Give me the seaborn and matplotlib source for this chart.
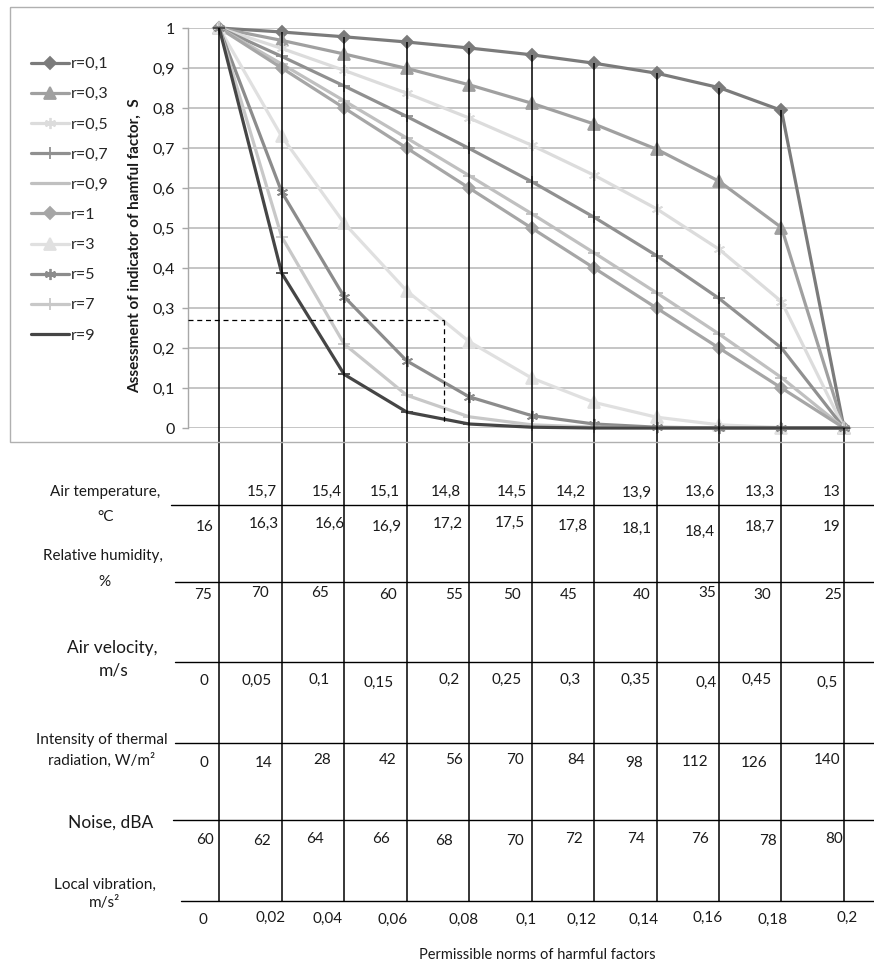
import numpy as np
import pandas as pd
import matplotlib
matplotlib.use("Agg")
import matplotlib.pyplot as plt
import seaborn as sns
from matplotlib.patches import Rectangle

# ------------------------------------------------------------------ data
# x categories: permissible norm steps (local vibration, m/s^2)
VIBRATION = [0, 0.02, 0.04, 0.06, 0.08, 0.1, 0.12, 0.14, 0.16, 0.18, 0.2]
R_LABELS = ["r=0,1", "r=0,3", "r=0,5", "r=0,7", "r=0,9", "r=1", "r=3", "r=5", "r=7", "r=9"]

S_R01 = [1, 0.990, 0.978, 0.965, 0.950, 0.933, 0.912, 0.887, 0.851, 0.794, 0]
S_R03 = [1, 0.969, 0.935, 0.899, 0.858, 0.812, 0.760, 0.697, 0.617, 0.501, 0]
S_R05 = [1, 0.949, 0.894, 0.837, 0.775, 0.707, 0.632, 0.548, 0.447, 0.316, 0]
S_R07 = [1, 0.929, 0.855, 0.779, 0.699, 0.616, 0.527, 0.431, 0.324, 0.200, 0]
S_R09 = [1, 0.910, 0.818, 0.725, 0.631, 0.536, 0.438, 0.338, 0.235, 0.126, 0]
S_R1 = [1, 0.900, 0.800, 0.700, 0.600, 0.500, 0.400, 0.300, 0.200, 0.100, 0]
S_R3 = [1, 0.729, 0.512, 0.343, 0.216, 0.125, 0.064, 0.027, 0.008, 0.001, 0]
S_R5 = [1, 0.590, 0.328, 0.168, 0.078, 0.031, 0.010, 0.002, 0, 0, 0]
S_R7 = [1, 0.478, 0.210, 0.082, 0.028, 0.008, 0.002, 0, 0, 0, 0]
S_R9 = [1, 0.387, 0.134, 0.040, 0.010, 0.002, 0, 0, 0, 0, 0]

# table rows under the chart
TEMP_LOW = [15.7, 15.4, 15.1, 14.8, 14.5, 14.2, 13.9, 13.6, 13.3, 13]       # columns 1..10
TEMP_HIGH = [16, 16.3, 16.6, 16.9, 17.2, 17.5, 17.8, 18.1, 18.4, 18.7, 19]
HUMIDITY = [75, 70, 65, 60, 55, 50, 45, 40, 35, 30, 25]
VELOCITY = [0, 0.05, 0.1, 0.15, 0.2, 0.25, 0.3, 0.35, 0.4, 0.45, 0.5]
RADIATION = [0, 14, 28, 42, 56, 70, 84, 98, 112, 126, 140]
NOISE = [60, 62, 64, 66, 68, 70, 72, 74, 76, 78, 80]

GUIDE_S = 0.27       # dashed reading guide
GUIDE_POS = 3.59
GUIDE_LOW = 0.012

# ------------------------------------------------------------------ styles
COLORS = ["#7b7b7b", "#a0a0a0", "#dcdcdc", "#909090", "#c0c0c0",
          "#a6a6a6", "#e0e0e0", "#8c8c8c", "#c8c8c8", "#454545"]
MARKERS = ["D", "^", (6, 2, 0), "+", "_", "D", "^", (6, 2, 0), "+", "_"]
MSIZES = [6.5, 8, 8, 8, 8, 6.5, 8, 8, 8, 8]

W, H = 874, 963
X0_PX, DX_PX = 220, 62.4
AX_L, AX_R, AX_T, AX_B = 188, 874, 28, 428
TABLE_BOTTOM_PX = 901

sns.set_theme(style="white")
plt.rcParams["font.family"] = ["Lato", "DejaVu Sans"]
TXT = "#1a1a1a"

fig = plt.figure(figsize=(W / 100, H / 100), dpi=100)
ax = fig.add_axes([AX_L / W, 1 - AX_B / H, (AX_R - AX_L) / W, (AX_B - AX_T) / H])
ax.set_xlim(-0.5, (AX_R - X0_PX) / DX_PX)
ax.set_ylim(0, 1)

series = [S_R01, S_R03, S_R05, S_R07, S_R09, S_R1, S_R3, S_R5, S_R7, S_R9]
pos = np.arange(len(VIBRATION))
df = pd.concat([pd.DataFrame({"pos": pos, "S": s, "r": lab})
                for lab, s in zip(R_LABELS, series)], ignore_index=True)

for lab, c, m, ms in zip(R_LABELS, COLORS, MARKERS, MSIZES):
    sub = df[df["r"] == lab]
    sns.lineplot(data=sub, x="pos", y="S", ax=ax, color=c, linewidth=2.3,
                 marker=m, markersize=ms, markerfacecolor=c, markeredgecolor=c,
                 markeredgewidth=1.3, label=lab, clip_on=False, zorder=3)

# drop lines from highest series down through the table
tops = df.groupby("pos")["S"].max().values
drop_low = (AX_B - TABLE_BOTTOM_PX) / (AX_B - AX_T)
ax.vlines(pos, drop_low, tops, colors="black", linewidth=1.1, clip_on=False, zorder=4)

# dashed guide
ax.plot([-0.5, GUIDE_POS], [GUIDE_S, GUIDE_S], color="black", lw=0.9, ls=(0, (4, 3)), zorder=4, clip_on=False)
ax.plot([GUIDE_POS, GUIDE_POS], [GUIDE_S, GUIDE_LOW], color="black", lw=0.9, ls=(0, (4, 3)), zorder=4)

# axes styling
yt = np.round(np.arange(0, 1.01, 0.1), 1)
ax.set_yticks(yt)
ax.set_yticklabels([f"{v:g}".replace(".", ",") for v in yt], fontsize=11.5, color=TXT)
ax.set_xticks([])
ax.set_xlabel("")
ax.set_ylabel("")
ax.yaxis.grid(True, color="#b5b5b5", lw=1.1)
ax.xaxis.grid(False)
for s in ["top", "right", "bottom"]:
    ax.spines[s].set_visible(False)
ax.spines["left"].set_color("#a8a8a8")
ax.spines["left"].set_linewidth(1.0)
ax.tick_params(axis="y", left=True, length=4, width=1, color="#a8a8a8", pad=5.5)
ax.set_axisbelow(True)

# legend
h, l = ax.get_legend_handles_labels()
ax.get_legend().remove()
fig.legend(h, l, loc="upper left", bbox_to_anchor=(31 / W, 1 - 57 / H),
           frameon=False, fontsize=11.5, handlelength=2.35, handletextpad=0.15,
           labelspacing=1.0, borderpad=0, borderaxespad=0)

# overlay in pixel coordinates for the frame and table
ov = fig.add_axes([0, 0, 1, 1], zorder=5)
ov.set_xlim(0, W)
ov.set_ylim(H, 0)
ov.axis("off")
ov.patch.set_alpha(0)

ov.add_patch(Rectangle((9.5, 7), W + 10, 435, fill=False, ec="#b0b0b0", lw=1.0))

ov.text(135, 393, "Assessment of indicator of hamful factor,  S", rotation=90,
        ha="center", va="bottom", fontsize=11, fontweight="bold", color=TXT)

TABLE_HLINES = [(505, 171), (582, 175), (662, 175), (743, 175), (820, 173), (901, 181)]
for y, x0 in TABLE_HLINES:
    ov.plot([x0, W], [y, y], color="black", lw=1.0)

ROW_LABELS = [
    ("Air temperature,", 105, 492, 11), ("\u00b0C", 106, 517, 11),
    ("Relative humidity,", 103, 556, 11), ("%", 104, 582, 11),
    ("Air velocity,", 112, 648, 12.5), ("m/s", 114, 670, 12.5),
    ("Intensity of thermal", 102, 740, 11), ("radiation, W/m\u00b2", 102, 760, 11),
    ("Noise, dBA", 111, 823, 12.5),
    ("Local vibration,", 105, 885, 11), ("m/s\u00b2", 105, 903, 11),
]
for t, x, y, fs in ROW_LABELS:
    ov.text(x, y, t, ha="center", va="center", fontsize=fs, color=TXT)


def fmt(v):
    return f"{v:g}".replace(".", ",")


ROWS = [
    (TEMP_LOW, [262, 327, 385, 446, 512, 571, 637, 700, 760, 832],
     [492, 492, 492, 492, 492, 492, 493, 492, 492, 492]),
    (TEMP_HIGH, [205, 264, 330, 387, 448, 510, 573, 637, 700, 760, 832],
     [527, 524, 524, 527, 524, 523, 526, 529, 532, 527, 527]),
    (HUMIDITY, [203, 260, 320, 388, 454, 512, 569, 642, 707, 762, 833],
     [595, 593, 593, 595, 595, 595, 595, 595, 593, 595, 595]),
    (VELOCITY, [204, 257, 319, 379, 449, 507, 570, 636, 706, 757, 827],
     [681, 681, 680, 683, 680, 680, 680, 680, 683, 680, 683]),
    (RADIATION, [204, 264, 322, 388, 454, 515, 576, 634, 695, 754, 827],
     [763, 763, 760, 760, 760, 760, 760, 763, 762, 763, 760]),
    (NOISE, [205, 262, 315, 381, 444, 515, 574, 636, 700, 768, 834],
     [840, 841, 839, 839, 841, 841, 839, 839, 839, 841, 839]),
    (VIBRATION, [203, 271, 328, 393, 464, 526, 582, 644, 708, 773, 847],
     [920, 918, 919, 920, 920, 920, 920, 920, 918, 920, 918]),
]
for vals, xs, ys in ROWS:
    for v, x, y in zip(vals, xs, ys):
        ov.text(x, y, fmt(v), ha="center", va="center", fontsize=11, color=TXT)

ov.text(537, 955, "Permissible norms of harmful factors", ha="center", va="center",
        fontsize=10.5, color=TXT)

fig.savefig("out.png", dpi=100)
